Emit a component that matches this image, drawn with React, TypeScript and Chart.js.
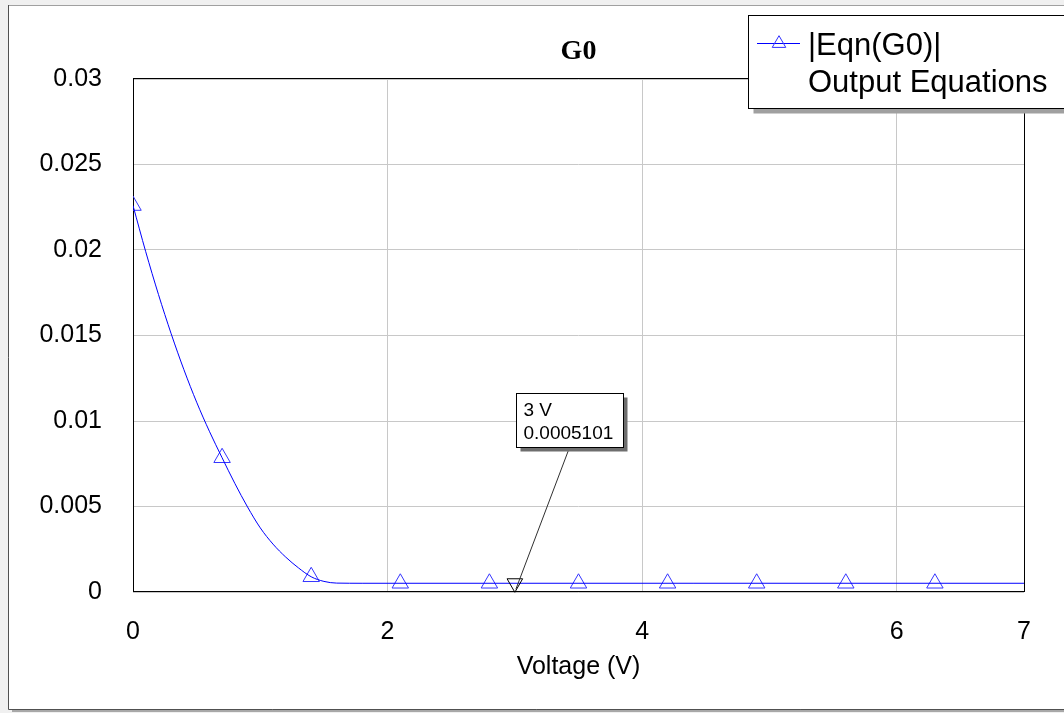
import { useEffect, useRef } from 'react';
import { Chart, registerables } from 'chart.js';

Chart.register(...registerables);

const titleText = 'G0';
const xAxisTitle = 'Voltage (V)';
const seriesName = '|Eqn(G0)|';
const legendGroup = 'Output Equations';

const xTicks = [0, 2, 4, 6, 7];
const yTicks = [0, 0.005, 0.01, 0.015, 0.02, 0.025, 0.03];
const yTickLabels = ['0', '0.005', '0.01', '0.015', '0.02', '0.025', '0.03'];

const curveX = [0, 0.1, 0.2, 0.3, 0.4, 0.5, 0.6, 0.7, 0.8, 0.9, 1.0, 1.1, 1.2, 1.3, 1.4, 1.5, 1.6, 1.7, 1.8, 7.0];
const curveY = [0.0226, 0.0199, 0.0174, 0.0151, 0.013, 0.0111, 0.0094, 0.00785, 0.00635, 0.00497, 0.00375, 0.0028, 0.00204, 0.00141, 0.00089, 0.00062, 0.00052, 0.000512, 0.0005101, 0.0005101];

const markerX = [0, 0.7, 1.4, 2.1, 2.8, 3.5, 4.2, 4.9, 5.6, 6.3];
const markerY = [0.0226, 0.00785, 0.00089, 0.0005101, 0.0005101, 0.0005101, 0.0005101, 0.0005101, 0.0005101, 0.0005101];

const cursorX = 3;
const cursorY = 0.0005101;
const cursorLines = ['3 V', '0.0005101'];

const SANS = '"Liberation Sans", Arial, sans-serif';
const SERIF = '"Liberation Serif", "Times New Roman", serif';

const framePlugin = {
  id: 'framePlugin',
  beforeDraw(chart: any) {
    const { ctx, width, height } = chart;
    ctx.save();
    ctx.fillStyle = '#f0f0f0';
    ctx.fillRect(0, 0, width, height);
    ctx.fillStyle = '#a8a8a8';
    ctx.fillRect(12, 709, width, 3);
    ctx.fillStyle = '#ffffff';
    ctx.fillRect(8, 5, width, 704);
    ctx.lineWidth = 1;
    ctx.strokeStyle = '#a0a0a0';
    ctx.beginPath();
    ctx.moveTo(8, 5.5);
    ctx.lineTo(width, 5.5);
    ctx.stroke();
    ctx.strokeStyle = '#505050';
    ctx.beginPath();
    ctx.moveTo(8.5, 5);
    ctx.lineTo(8.5, 709.5);
    ctx.lineTo(width, 709.5);
    ctx.stroke();
    ctx.restore();
  },
  beforeDatasetsDraw(chart: any) {
    const { ctx, chartArea } = chart;
    ctx.save();
    ctx.strokeStyle = '#000000';
    ctx.lineWidth = 1;
    ctx.strokeRect(Math.round(chartArea.left) + 0.5, Math.round(chartArea.top) - 0.5, Math.round(chartArea.right - chartArea.left), Math.round(chartArea.bottom - chartArea.top));
    ctx.restore();
  },
  afterDatasetsDraw(chart: any) {
    const { ctx, chartArea, scales } = chart;
    ctx.save();
    // title
    ctx.fillStyle = '#000';
    ctx.font = `bold 28px ${SERIF}`;
    ctx.textAlign = 'center';
    ctx.textBaseline = 'middle';
    ctx.fillText(titleText, (chartArea.left + chartArea.right) / 2, 52);

    // cursor marker
    const px = scales.x.getPixelForValue(cursorX);
    const py = scales.y.getPixelForValue(cursorY);
    const r = 9;
    ctx.strokeStyle = '#000';
    ctx.lineWidth = 1;
    ctx.beginPath();
    ctx.moveTo(px, py + r);
    ctx.lineTo(px - r * 0.866, py - r / 2);
    ctx.lineTo(px + r * 0.866, py - r / 2);
    ctx.closePath();
    ctx.stroke();

    const bx = Math.round(px) + 1.5;
    const by = Math.round(py) - 189.5;
    const bw = 107;
    const bh = 54;
    ctx.strokeStyle = '#303030';
    ctx.beginPath();
    ctx.moveTo(bx + 53, by + bh);
    ctx.lineTo(px + 1, py + 6);
    ctx.stroke();
    ctx.fillStyle = '#6e6e6e';
    ctx.fillRect(bx + 4, by + 4, bw, bh);
    ctx.fillStyle = '#fff';
    ctx.fillRect(bx, by, bw, bh);
    ctx.strokeStyle = '#000';
    ctx.strokeRect(bx, by, bw, bh);
    ctx.fillStyle = '#000';
    ctx.font = `19px ${SANS}`;
    ctx.textAlign = 'left';
    ctx.textBaseline = 'alphabetic';
    ctx.fillText(cursorLines[0], bx + 7, by + 22);
    ctx.fillText(cursorLines[1], bx + 7, by + 45);

    // legend
    const lx = 748.5;
    const ly = 15.5;
    ctx.fillStyle = '#a0a0a0';
    ctx.fillRect(lx + 5, ly + 5, 400, 93);
    ctx.fillStyle = '#fff';
    ctx.fillRect(lx, ly, 400, 93);
    ctx.strokeStyle = '#000';
    ctx.strokeRect(lx, ly, 400, 93);
    ctx.strokeStyle = '#0000ff';
    ctx.beginPath();
    ctx.moveTo(757, 43.5);
    ctx.lineTo(800, 43.5);
    ctx.stroke();
    const lr = 7.8;
    ctx.strokeStyle = '#3030ff';
    ctx.beginPath();
    ctx.moveTo(779, 43.5 - lr);
    ctx.lineTo(779 - lr * 0.866, 43.5 + lr / 2);
    ctx.lineTo(779 + lr * 0.866, 43.5 + lr / 2);
    ctx.closePath();
    ctx.stroke();
    ctx.fillStyle = '#000';
    ctx.font = `31px ${SANS}`;
    ctx.fillText(seriesName, 808, 55);
    ctx.fillText(legendGroup, 808, 92);
    ctx.restore();
  },
};

export default function App() {
  const ref = useRef<HTMLCanvasElement>(null);
  useEffect(() => {
    if (!ref.current) return;
    const tickFont = { family: SANS, size: 25 };
    const chart = new Chart(ref.current, {
      type: 'scatter',
      data: {
        datasets: [
          {
            label: seriesName,
            data: curveX.map((x, i) => ({ x, y: curveY[i] })),
            showLine: true,
            borderColor: '#0000ff',
            borderWidth: 1,
            pointRadius: 0,
            cubicInterpolationMode: 'monotone',
          },
          {
            label: seriesName + ' markers',
            data: markerX.map((x, i) => ({ x, y: markerY[i] })),
            showLine: false,
            pointStyle: 'triangle',
            pointRadius: 9.5,
            pointBorderColor: '#3535ff',
            pointBackgroundColor: 'rgba(0,0,0,0)',
            pointBorderWidth: 1,
          },
        ],
      },
      options: {
        responsive: false,
        animation: false,
        events: [],
        layout: { padding: { left: 0, right: 40, top: 79, bottom: 0 } },
        plugins: {
          legend: { display: false },
          tooltip: { enabled: false },
          title: { display: false },
        },
        scales: {
          x: {
            type: 'linear',
            min: 0,
            max: 7,
            afterBuildTicks: (s: any) => {
              s.ticks = xTicks.map((v) => ({ value: v }));
            },
            afterFit: (s: any) => {
              s.height = 121;
            },
            grid: { color: '#c8c8c8', drawTicks: false },
            border: { display: false },
            ticks: {
              padding: 25,
              color: '#000',
              font: tickFont,
              maxRotation: 0,
              callback: (v: any) => String(v),
            },
            title: {
              display: true,
              text: xAxisTitle,
              color: '#000',
              font: tickFont,
              padding: { top: 0, bottom: 31 },
            },
          },
          y: {
            type: 'linear',
            min: 0,
            max: 0.03,
            afterBuildTicks: (s: any) => {
              s.ticks = yTicks.map((v) => ({ value: v }));
            },
            afterFit: (s: any) => {
              s.width = 133;
            },
            grid: { color: '#c8c8c8', drawTicks: false },
            border: { display: false },
            ticks: {
              padding: 31,
              color: '#000',
              font: tickFont,
              callback: (_v: any, i: number) => yTickLabels[i],
            },
          },
        },
      },
      plugins: [framePlugin],
    } as any);
    return () => chart.destroy();
  }, []);
  return (
    <canvas
      ref={ref}
      width={1064}
      height={713}
      style={{ position: 'fixed', left: 0, top: 0, width: 1064, height: 713 }}
    />
  );
}
